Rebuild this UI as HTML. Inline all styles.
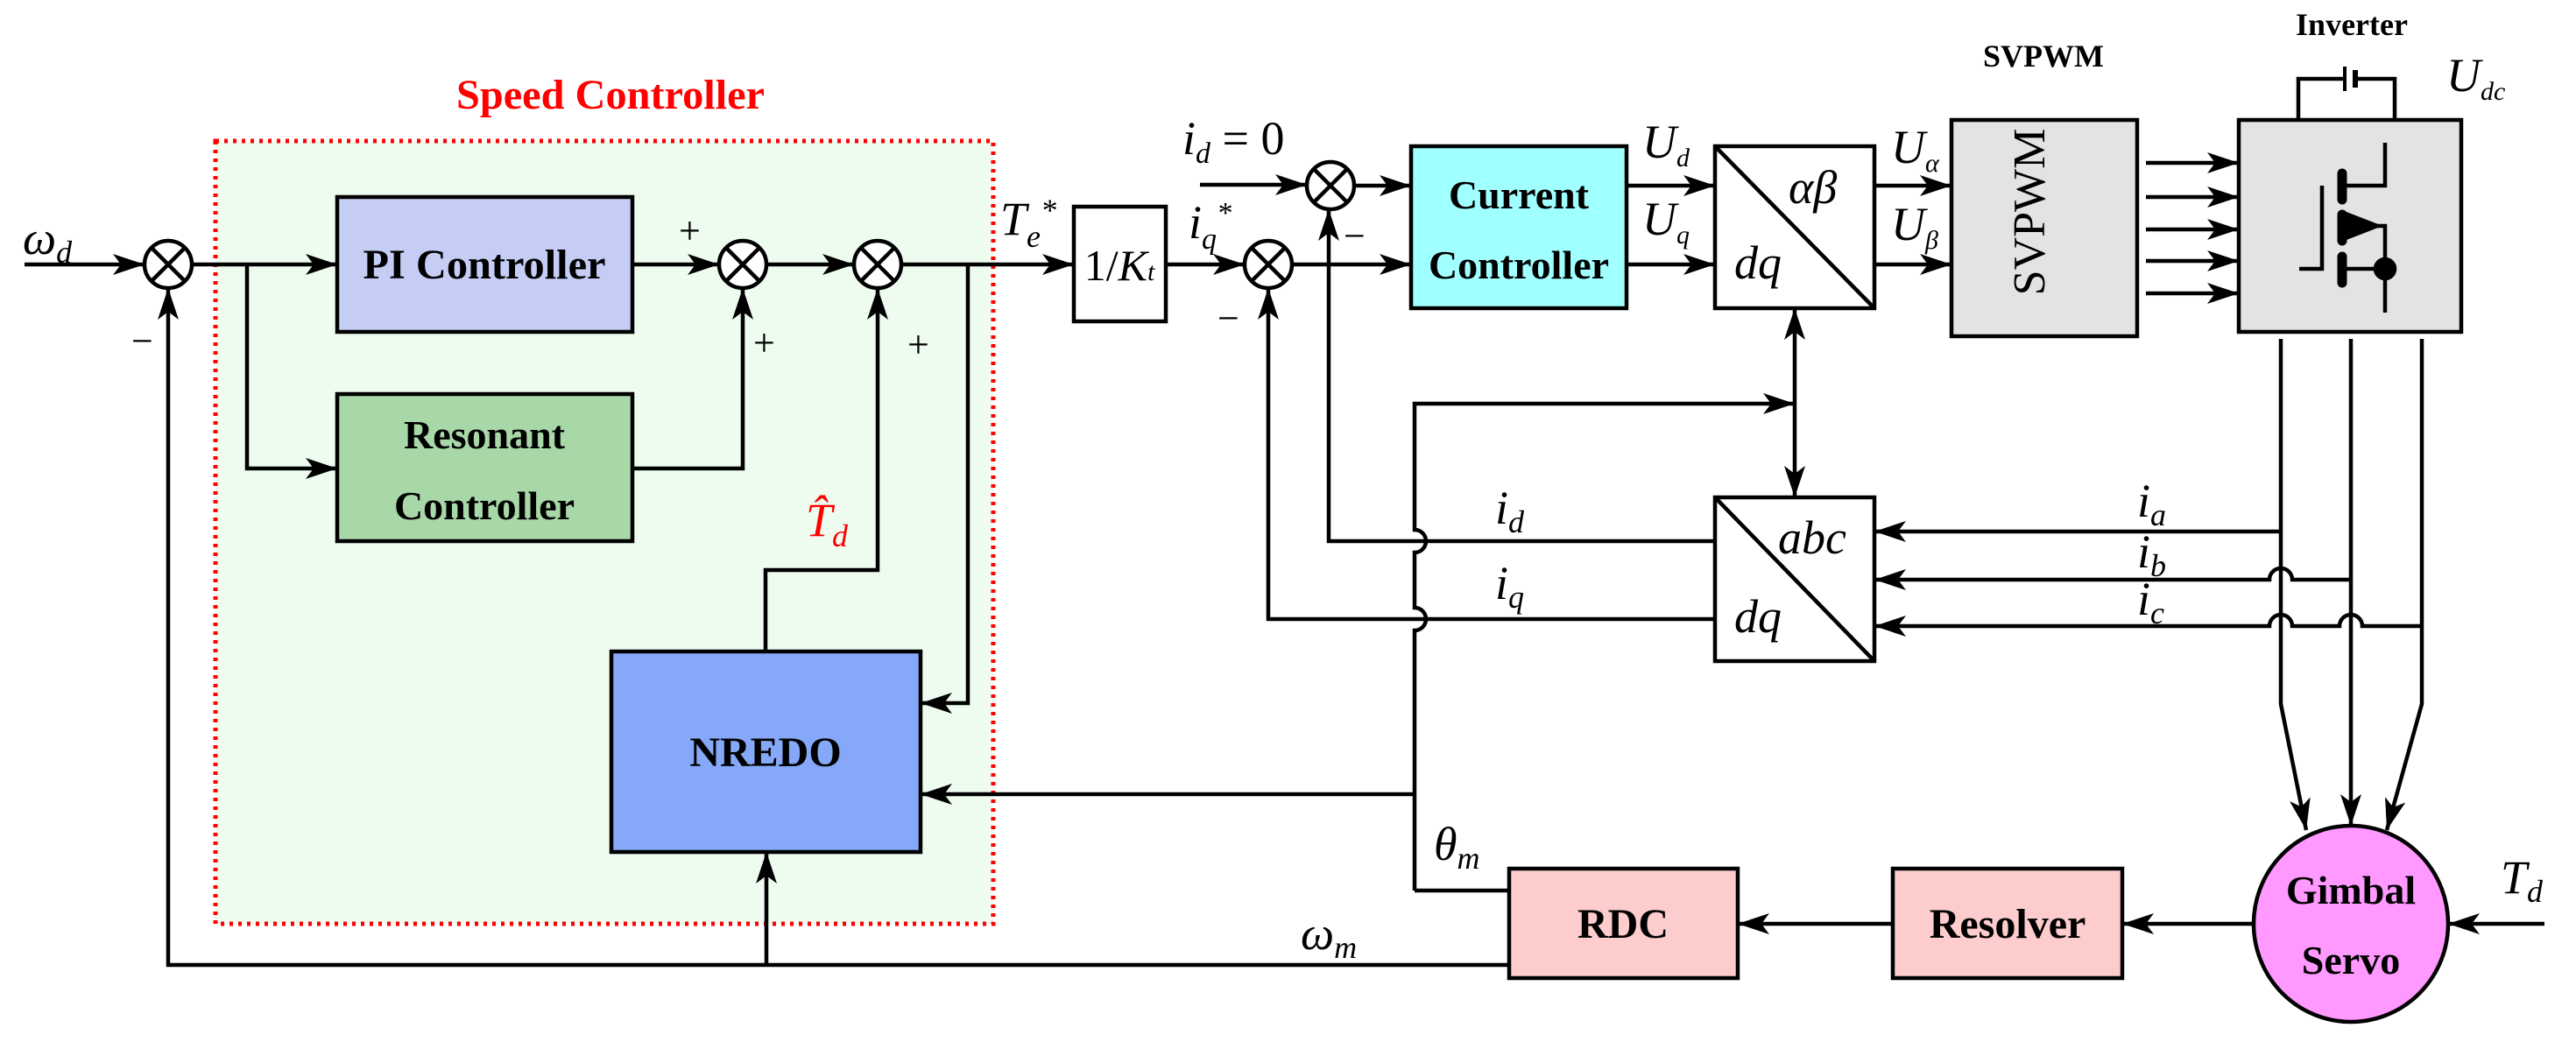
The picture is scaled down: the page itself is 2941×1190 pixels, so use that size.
<!DOCTYPE html>
<html><head><meta charset="utf-8"><style>
html,body{margin:0;padding:0;background:#fff;}
svg{display:block;}
</style></head><body>
<svg width="2941" height="1190" viewBox="0 0 2941 1190" xmlns="http://www.w3.org/2000/svg">
<defs>
<marker id="a" markerUnits="userSpaceOnUse" markerWidth="40" markerHeight="30" refX="36" refY="12" orient="auto">
<path d="M36,12 L0,0 L9,12 L0,24 Z" fill="#000"/>
</marker>
<marker id="as" markerUnits="userSpaceOnUse" markerWidth="40" markerHeight="30" refX="36" refY="12" orient="auto-start-reverse">
<path d="M36,12 L0,0 L9,12 L0,24 Z" fill="#000"/>
</marker>
</defs>
<g stroke="#000" stroke-width="4.5" fill="none">
<rect x="246" y="161" width="888" height="894" fill="#eefcf0" stroke="#ff0000" stroke-width="5" stroke-dasharray="4,6"/>
<rect x="385" y="225" width="337" height="154" fill="#c5cdf5"/>
<rect x="385" y="450" width="337" height="168" fill="#a8d8a8"/>
<rect x="698" y="744" width="353" height="229" fill="#85a8f8"/>
<rect x="1226" y="236" width="105" height="131" fill="#fff"/>
<rect x="1611" y="167" width="246" height="185" fill="#a0ffff"/>
<rect x="1958" y="167" width="182" height="185" fill="#fff"/>
<line x1="1958" y1="167" x2="2140" y2="352"/>
<rect x="1958" y="568" width="182" height="187" fill="#fff"/>
<line x1="1958" y1="568" x2="2140" y2="755"/>
<rect x="2228" y="137" width="212" height="247" fill="#e3e3e3"/>
<rect x="2556" y="137" width="254" height="242" fill="#e3e3e3"/>
<rect x="1723" y="992" width="261" height="125" fill="#fdcccc"/>
<rect x="2161" y="992" width="262" height="125" fill="#fdcccc"/>
<ellipse cx="2684" cy="1055" rx="111" ry="112" fill="#ff99ff"/>
<g fill="#fff">
<circle cx="192" cy="302" r="27"/><circle cx="848" cy="302" r="27"/><circle cx="1002" cy="302" r="27"/>
<circle cx="1448" cy="302" r="27"/><circle cx="1519" cy="212" r="27"/>
</g>
<path d="M173,283 L211,321 M211,283 L173,321 M829,283 L867,321 M867,283 L829,321 M983,283 L1021,321 M1021,283 L983,321 M1429,283 L1467,321 M1467,283 L1429,321 M1500,193 L1538,231 M1538,193 L1500,231"/>
<line x1="28" y1="302" x2="165" y2="302" marker-end="url(#a)"/>
<line x1="219" y1="302" x2="385" y2="302" marker-end="url(#a)"/>
<polyline points="282,302 282,535 385,535" marker-end="url(#a)"/>
<line x1="722" y1="302" x2="821" y2="302" marker-end="url(#a)"/>
<polyline points="722,535 848,535 848,329" marker-end="url(#a)"/>
<line x1="875" y1="302" x2="975" y2="302" marker-end="url(#a)"/>
<polyline points="874,744 874,651 1002,651 1002,329" marker-end="url(#a)"/>
<line x1="1029" y1="302" x2="1226" y2="302" marker-end="url(#a)"/>
<polyline points="1105,302 1105,803 1051,803" marker-end="url(#a)"/>
<line x1="1331" y1="302" x2="1421" y2="302" marker-end="url(#a)"/>
<line x1="1475" y1="302" x2="1611" y2="302" marker-end="url(#a)"/>
<line x1="1370" y1="211" x2="1492" y2="211" marker-end="url(#a)"/>
<line x1="1546" y1="212" x2="1611" y2="212" marker-end="url(#a)"/>
<polyline points="1958,618 1517,618 1517,239" marker-end="url(#a)"/>
<polyline points="1958,707 1448,707 1448,329" marker-end="url(#a)"/>
<line x1="1857" y1="212" x2="1958" y2="212" marker-end="url(#a)"/>
<line x1="1857" y1="302" x2="1958" y2="302" marker-end="url(#a)"/>
<line x1="2140" y1="212" x2="2228" y2="212" marker-end="url(#a)"/>
<line x1="2140" y1="302" x2="2228" y2="302" marker-end="url(#a)"/>
<line x1="2450" y1="186" x2="2556" y2="186" marker-end="url(#a)"/>
<line x1="2450" y1="225" x2="2556" y2="225" marker-end="url(#a)"/>
<line x1="2450" y1="262" x2="2556" y2="262" marker-end="url(#a)"/>
<line x1="2450" y1="298" x2="2556" y2="298" marker-end="url(#a)"/>
<line x1="2450" y1="335" x2="2556" y2="335" marker-end="url(#a)"/>
<line x1="2049" y1="352" x2="2049" y2="568" marker-start="url(#as)" marker-end="url(#a)"/>
<path d="M1615,1017 L1615,720 A13,13 0 0 0 1615,694 L1615,631 A13,13 0 0 0 1615,605 L1615,461 L2049,461" marker-end="url(#a)"/>
<line x1="1615" y1="907" x2="1051" y2="907" marker-end="url(#a)"/>
<line x1="1615" y1="1017" x2="1723" y2="1017"/>
<polyline points="1723,1102 192,1102 192,329" marker-end="url(#a)"/>
<line x1="875" y1="1102" x2="875" y2="973" marker-end="url(#a)"/>
<line x1="2161" y1="1055" x2="1984" y2="1055" marker-end="url(#a)"/>
<line x1="2573" y1="1055" x2="2423" y2="1055" marker-end="url(#a)"/>
<line x1="2905" y1="1055" x2="2795" y2="1055" marker-end="url(#a)"/>
<polyline points="2604,387 2604,804 2633,948" marker-end="url(#a)"/>
<line x1="2684" y1="387" x2="2684" y2="943" marker-end="url(#a)"/>
<polyline points="2765,387 2765,804 2725,948" marker-end="url(#a)"/>
<line x1="2604" y1="607" x2="2140" y2="607" marker-end="url(#a)"/>
<path d="M2684,662 L2617,662 A13,13 0 0 0 2591,662 L2140,662" marker-end="url(#a)"/>
<path d="M2765,715 L2697,715 A13,13 0 0 0 2671,715 L2617,715 A13,13 0 0 0 2591,715 L2140,715" marker-end="url(#a)"/>
<polyline points="2624,137 2624,90 2677,90"/><polyline points="2734,137 2734,90 2689,90"/>
<line x1="2677" y1="76" x2="2677" y2="104" stroke-width="4"/><line x1="2689" y1="80" x2="2689" y2="100" stroke-width="6"/>
<polyline points="2625,307 2651,307 2651,212"/>
<g stroke-width="11" stroke-linecap="round"><line x1="2674" y1="198" x2="2674" y2="228"/><line x1="2674" y1="245" x2="2674" y2="275"/><line x1="2674" y1="293" x2="2674" y2="323"/></g>
<polyline points="2674,212 2723,212 2723,163"/>
<line x1="2674" y1="307" x2="2723" y2="307"/>
<polyline points="2714,258 2723,258 2723,357"/>
<path d="M2714,258 L2678,244 L2678,272 Z" fill="#000"/>
<circle cx="2723" cy="307" r="11" fill="#000"/>
</g>
<g font-family="Liberation Serif, serif" font-size="44" fill="#000">
<text x="775" y="278">+</text><text x="860" y="406">+</text><text x="1036" y="408">+</text>
<text x="150" y="404">−</text><text x="1390" y="378">−</text><text x="1534" y="284">−</text>
</g>
<g font-family="Liberation Serif, serif" font-weight="bold" fill="#000" text-anchor="middle">
<text x="697" y="124" font-size="48" fill="#ff0000" textLength="352" lengthAdjust="spacingAndGlyphs">Speed Controller</text>
<text x="553" y="318" font-size="48" textLength="277" lengthAdjust="spacingAndGlyphs">PI Controller</text>
<text x="553" y="512" font-size="46">Resonant</text>
<text x="553" y="593" font-size="46">Controller</text>
<text x="874" y="875" font-size="48">NREDO</text>
<text x="1734" y="238" font-size="46">Current</text>
<text x="1734" y="318" font-size="46">Controller</text>
<text x="2333" y="76" font-size="36">SVPWM</text>
<text x="2685" y="40" font-size="36">Inverter</text>
<text x="1853" y="1071" font-size="48">RDC</text>
<text x="2292" y="1071" font-size="48">Resolver</text>
<text x="2684" y="1032" font-size="46">Gimbal</text>
<text x="2684" y="1112" font-size="46">Servo</text>
</g>
<text x="2352" y="260" font-family="Liberation Serif, serif" font-size="52" text-anchor="middle" transform="rotate(-90 2334 260)">SVPWM</text>
<text x="1278" y="320" font-family="Liberation Serif, serif" font-size="50" text-anchor="middle">1/<tspan font-style="italic">K</tspan><tspan font-style="italic" font-size="30">t</tspan></text>
<g font-family="Liberation Serif, serif" font-style="italic" fill="#000" font-size="54">
<text x="26" y="290">ω<tspan font-size="36" dy="10">d</tspan></text>
<text x="1142" y="268">T<tspan font-size="36" dy="14">e</tspan><tspan font-size="36" dy="-30">*</tspan></text>
<text x="1357" y="272">i<tspan font-size="34" dy="12">q</tspan><tspan font-size="34" dy="-30">*</tspan></text>
<text x="1350" y="176">i<tspan font-size="34" dy="10">d</tspan><tspan font-style="normal" dy="-10"> = 0</tspan></text>
<text x="920" y="612" fill="#ff0000">T̂<tspan font-size="36" dy="12">d</tspan></text>
<text x="1875" y="180">U<tspan font-size="30" dy="10">d</tspan></text>
<text x="1875" y="268">U<tspan font-size="30" dy="10">q</tspan></text>
<text x="2042" y="232">αβ</text>
<text x="1980" y="318">dq</text>
<text x="2030" y="632">abc</text>
<text x="1980" y="722">dq</text>
<text x="2159" y="186">U<tspan font-size="30" dy="10">α</tspan></text>
<text x="2159" y="274">U<tspan font-size="30" dy="10">β</tspan></text>
<text x="2793" y="104">U<tspan font-size="30" dy="10">dc</tspan></text>
<text x="1707" y="598">i<tspan font-size="36" dy="10">d</tspan></text>
<text x="1707" y="684">i<tspan font-size="36" dy="10">q</tspan></text>
<text x="2440" y="590">i<tspan font-size="36" dy="10">a</tspan></text>
<text x="2440" y="648">i<tspan font-size="36" dy="10">b</tspan></text>
<text x="2440" y="702">i<tspan font-size="36" dy="10">c</tspan></text>
<text x="1637" y="982">θ<tspan font-size="36" dy="10">m</tspan></text>
<text x="1485" y="1084">ω<tspan font-size="36" dy="10">m</tspan></text>
<text x="2855" y="1020">T<tspan font-size="36" dy="10">d</tspan></text>
</g>
</svg>
</body></html>
